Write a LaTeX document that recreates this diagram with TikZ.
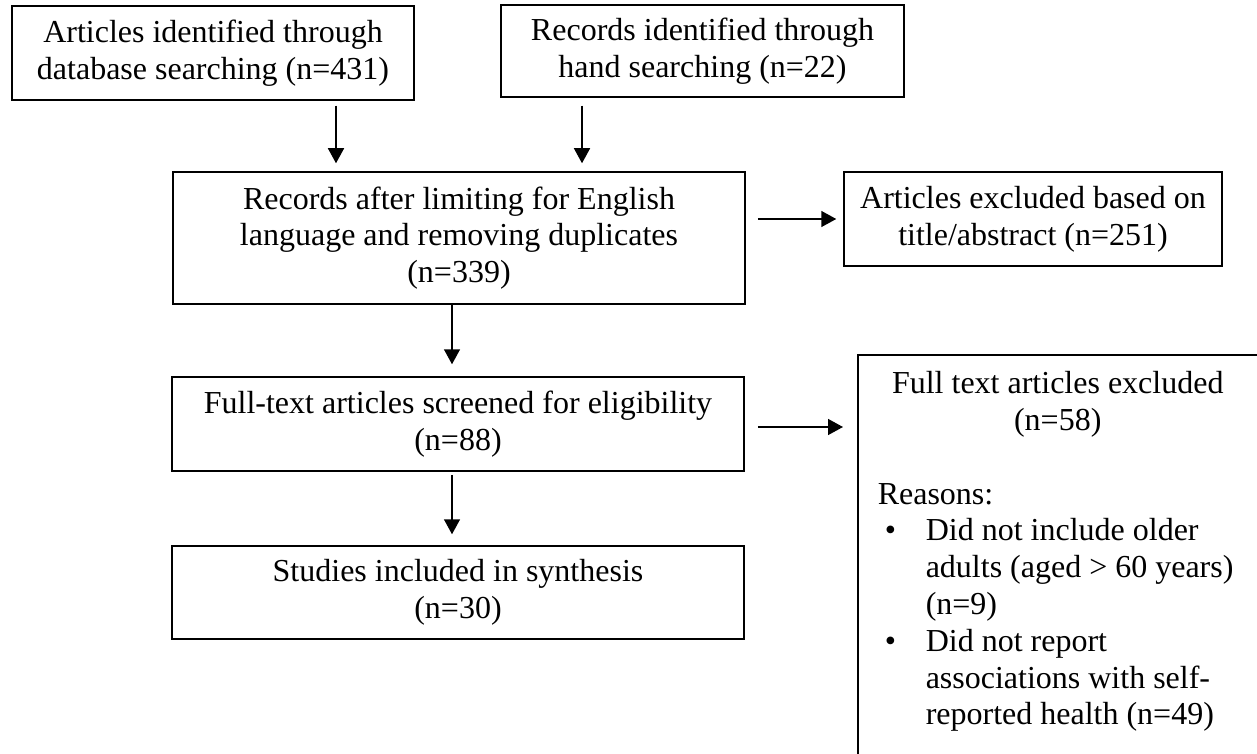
\documentclass[tikz,border=0pt]{standalone}
\usepackage{fontspec}
\setmainfont{Liberation Serif}
\usetikzlibrary{arrows.meta}
\begin{document}
\begin{tikzpicture}[x=1pt,y=-1pt,
  font=\fontsize{32}{36.8}\selectfont,
  box/.style={draw, line width=1.5pt, align=center, inner sep=0pt},
  arr/.style={line width=1.5pt, -{Triangle[length=15pt,width=16pt]}}]
\useasboundingbox (0,0) rectangle (1257,754);
\node[box, minimum width=402pt, minimum height=94pt] (b1) at (213,53)
  {Articles identified through\\database searching (n=431)};
\node[box, minimum width=403pt, minimum height=92pt] (b2) at (702.5,51)
  {Records identified through\\hand searching (n=22)};
\node[box, minimum width=572pt, minimum height=132pt] (b3) at (459,238)
  {Records after limiting for English\\language and removing duplicates\\(n=339)};
\node[box, minimum width=378pt, minimum height=94pt] (b4) at (1033,219)
  {Articles excluded based on\\title/abstract (n=251)};
\node[box, minimum width=572pt, minimum height=94pt] (b5) at (458,424)
  {Full-text articles screened for eligibility\\(n=88)};
\node[box, minimum width=572pt, minimum height=93pt] (b6) at (458,592.5)
  {Studies included in synthesis\\(n=30)};
\node[box, anchor=north west] (b7) at (857,354)
  {\parbox[t][430pt][t]{410pt}{\rule{0pt}{39pt}\makebox[400pt]{Full text articles excluded}\\
  \makebox[400pt]{(n=58)}\\[36.8pt]
  \hspace*{20pt}Reasons:\\
  \hspace*{27pt}\makebox[41pt][l]{\textbullet}Did not include older\\
  \hspace*{68pt}adults (aged > 60 years)\\
  \hspace*{68pt}(n=9)\\
  \hspace*{27pt}\makebox[41pt][l]{\textbullet}Did not report\\
  \hspace*{68pt}associations with self-\\
  \hspace*{68pt}reported health (n=49)}};
\draw[arr, shorten <=5pt, shorten >=8pt] ([xshift=123pt]b1.south) -- ([xshift=123pt]b1.south |- b3.north);
\draw[arr, shorten <=8pt, shorten >=8pt] ([xshift=-120.5pt]b2.south) -- ([xshift=-120.5pt]b2.south |- b3.north);
\draw[arr, shorten <=12pt, shorten >=7pt] ([yshift=19pt]b3.east) -- ([yshift=19pt]b3.east -| b4.west);
\draw[arr, shorten >=12pt] ([xshift=-7pt]b3.south) -- ([xshift=-7pt]b3.south |- b5.north);
\draw[arr, shorten <=3pt, shorten >=11pt] ([xshift=-6pt]b5.south) -- ([xshift=-6pt]b5.south |- b6.north);
\draw[arr, shorten <=13pt, shorten >=14pt] ([yshift=-3pt]b5.east) -- ([yshift=-3pt]b5.east -| b7.west);
\end{tikzpicture}
\end{document}
